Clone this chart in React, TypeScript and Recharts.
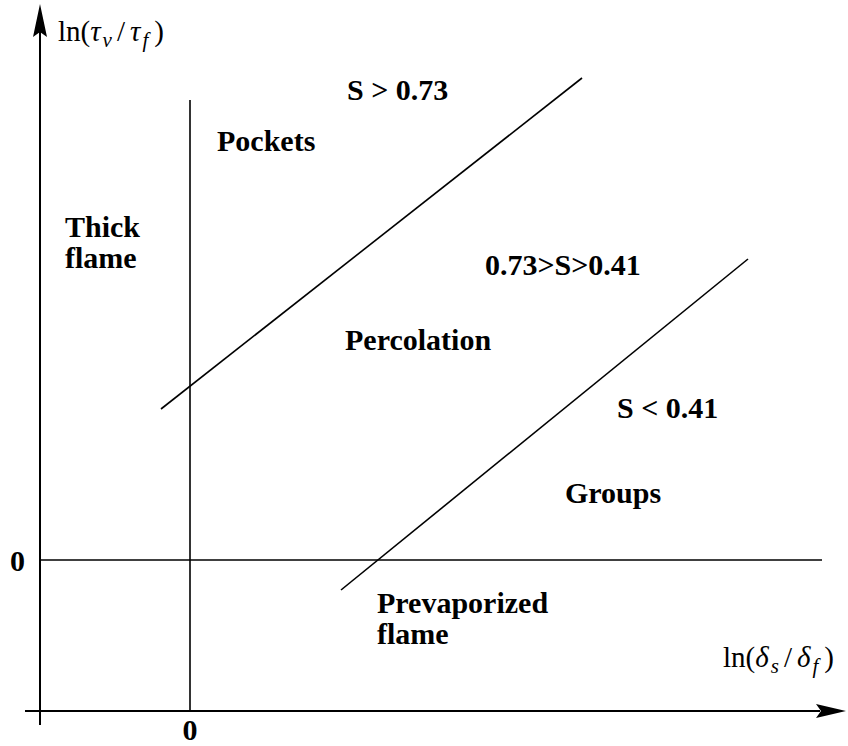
import { ComposedChart, XAxis, YAxis, ReferenceLine, ReferenceDot } from 'recharts';

// schematic coordinates: x = ln(δs/δf), y = ln(τv/τf), origin where the two zero lines cross
const X_DOMAIN = [-3.8, 13.16];
const Y_DOMAIN = [-3.72, 11.2];

const upperBoundary = [{ x: -0.58, y: 3.02 }, { x: 7.84, y: 9.64 }];
const lowerBoundary = [{ x: 3.02, y: -0.6 }, { x: 11.16, y: 6.02 }];
const zeroVertical = [{ x: 0, y: -3.02 }, { x: 0, y: 9.2 }];
const zeroHorizontal = [{ x: -3, y: 0 }, { x: 12.64, y: 0 }];
const yAxisLine = [{ x: -3, y: -3.3 }, { x: -3, y: 10.6 }];
const xAxisLine = [{ x: -3.3, y: -3.02 }, { x: 12.6, y: -3.02 }];
const yArrowTip = { x: -3, y: 11.12 };
const xArrowTip = { x: 13.12, y: -3.02 };

const regionLabels = [
  { x: 3.14, y: 9.2, lines: ['S > 0.73'] },
  { x: 0.54, y: 8.18, lines: ['Pockets'] },
  { x: -2.5, y: 6.46, lines: ['Thick', 'flame'] },
  { x: 5.9, y: 5.7, lines: ['0.73>S>0.41'] },
  { x: 3.1, y: 4.2, lines: ['Percolation'] },
  { x: 8.54, y: 2.84, lines: ['S < 0.41'] },
  { x: 7.5, y: 1.14, lines: ['Groups'] },
  { x: 3.74, y: -1.06, lines: ['Prevaporized', 'flame'] },
];

const zeroTicks = [
  { x: -3.45, y: -0.22, text: '0' },
  { x: 0, y: -3.6, text: '0' },
];

const yTitle = { x: -2.64, y: 10.38 };
const xTitle = { x: 10.66, y: -2.14 };

const SERIF = '"Liberation Serif", "Times New Roman", serif';
const boldStyle = { fontFamily: SERIF, fontWeight: 700, fontSize: 30 };

function RegionLabel({ cx, cy, lines }: any) {
  return (
    <text x={cx} y={cy} fill="#000" style={boldStyle}>
      {lines.map((l: string, i: number) => (
        <tspan key={i} x={cx} dy={i ? 31 : 0}>{l}</tspan>
      ))}
    </text>
  );
}

function RatioTitle({ cx, cy, sym, a, b }: any) {
  return (
    <text x={cx} y={cy} fill="#000" style={{ fontFamily: SERIF, fontSize: 29 }}>
      <tspan>ln(</tspan>
      <tspan fontStyle="italic">{sym}</tspan>
      <tspan fontStyle="italic" fontSize={21} dy={6} dx={2}>{a}</tspan>
      <tspan dy={-6} dx={5}>/</tspan>
      <tspan fontStyle="italic" dx={5}>{sym}</tspan>
      <tspan fontStyle="italic" fontSize={21} dy={6} dx={2}>{b}</tspan>
      <tspan dy={-6} dx={6}>)</tspan>
    </text>
  );
}

const line = { stroke: '#000', ifOverflow: 'visible' as const };

export default function App() {
  return (
    <div style={{ position: 'absolute', left: 0, top: 0, background: '#fff' }}>
      <ComposedChart width={848} height={746} margin={{ top: 0, right: 0, bottom: 0, left: 0 }}>
        <XAxis type="number" dataKey="x" domain={X_DOMAIN} hide allowDataOverflow />
        <YAxis type="number" dataKey="y" domain={Y_DOMAIN} hide allowDataOverflow />
        <ReferenceLine segment={yAxisLine} strokeWidth={2} {...line} />
        <ReferenceLine segment={xAxisLine} strokeWidth={2} {...line} />
        <ReferenceLine segment={zeroVertical} strokeWidth={1.6} {...line} />
        <ReferenceLine segment={zeroHorizontal} strokeWidth={1.6} {...line} />
        <ReferenceLine segment={upperBoundary} strokeWidth={1.6} {...line} />
        <ReferenceLine segment={lowerBoundary} strokeWidth={1.6} {...line} />
        <ReferenceDot
          x={yArrowTip.x}
          y={yArrowTip.y}
          ifOverflow="visible"
          shape={(p: any) => (
            <path d={`M${p.cx},${p.cy} L${p.cx + 7},${p.cy + 33} L${p.cx},${p.cy + 28} L${p.cx - 7},${p.cy + 33} Z`} fill="#000" />
          )}
        />
        <ReferenceDot
          x={xArrowTip.x}
          y={xArrowTip.y}
          ifOverflow="visible"
          shape={(p: any) => (
            <path d={`M${p.cx},${p.cy} L${p.cx - 30},${p.cy - 7} L${p.cx - 25},${p.cy} L${p.cx - 30},${p.cy + 7} Z`} fill="#000" />
          )}
        />
        <ReferenceDot
          x={yTitle.x}
          y={yTitle.y}
          ifOverflow="visible"
          shape={(p: any) => <RatioTitle cx={p.cx} cy={p.cy} sym="τ" a="v" b="f" />}
        />
        <ReferenceDot
          x={xTitle.x}
          y={xTitle.y}
          ifOverflow="visible"
          shape={(p: any) => <RatioTitle cx={p.cx} cy={p.cy} sym="δ" a="s" b="f" />}
        />
        {regionLabels.map((d, i) => (
          <ReferenceDot
            key={`r${i}`}
            x={d.x}
            y={d.y}
            ifOverflow="visible"
            shape={(p: any) => <RegionLabel cx={p.cx} cy={p.cy} lines={d.lines} />}
          />
        ))}
        {zeroTicks.map((d, i) => (
          <ReferenceDot
            key={`z${i}`}
            x={d.x}
            y={d.y}
            ifOverflow="visible"
            shape={(p: any) => (
              <text x={p.cx} y={p.cy} fill="#000" textAnchor="middle" style={boldStyle}>{d.text}</text>
            )}
          />
        ))}
      </ComposedChart>
    </div>
  );
}
